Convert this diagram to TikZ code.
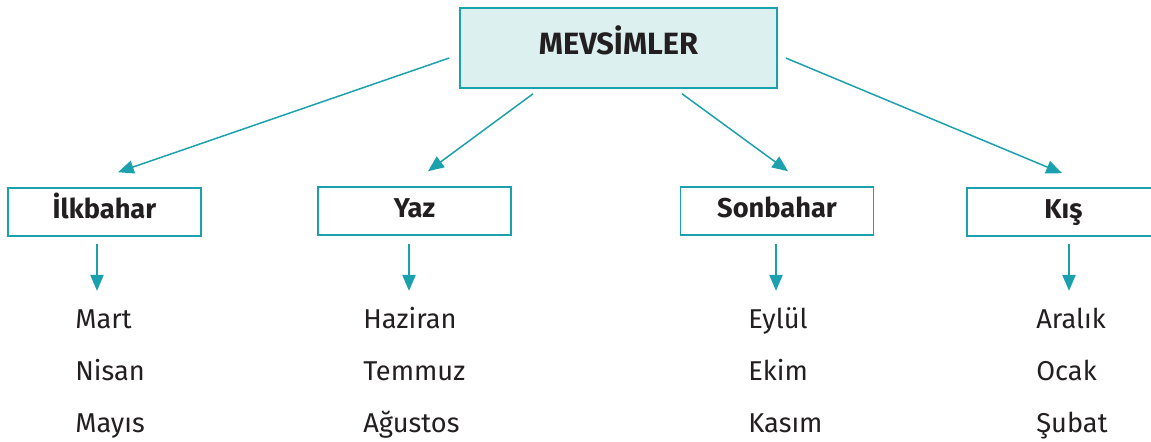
\documentclass[tikz,border=0pt]{standalone}
\usepackage{fontspec}
\setmainfont{Fira Sans}
\usepackage{xcolor}
\usepackage{tikz}
\usetikzlibrary{arrows.meta}
\usetikzlibrary{positioning}

\definecolor{tealline}{HTML}{1BA1AD}
\definecolor{tealfill}{HTML}{DDF0F0}
\definecolor{inkdark}{HTML}{231F20}

\begin{document}
\begin{tikzpicture}[
    x=0.02cm, y=-0.02cm,
    every node/.style={text=inkdark, inner sep=0pt},
    topbox/.style={rectangle, draw=tealline, fill=tealfill, line width=0.9pt,
      minimum width=317*0.02cm, minimum height=80*0.02cm,
      text height=0.69em, text depth=0pt, font=\fontsize{17.5}{20}\selectfont\bfseries},
    seasonbox/.style={rectangle, draw=tealline, fill=white, line width=0.9pt,
      minimum width=193*0.02cm, minimum height=48*0.02cm,
      text height=0.69em, text depth=0pt, font=\fontsize{15.5}{18}\selectfont\bfseries},
    month/.style={anchor=base west, font=\fontsize{15.5}{18}\selectfont},
    arr/.style={->, draw=tealline, line width=0.85pt},
  ]
\tikzset{>={Triangle[length=9pt, width=7.5pt]}}

  \useasboundingbox (0,0) rectangle (1151,441);

  \node[topbox]    (mevsim) at (618.5, 48) {MEVSİMLER};
  \node[seasonbox] (ilk)    at (104.5, 212) {İlkbahar};
  \node[seasonbox] (yaz)    at (414.5, 211) {Yaz};
  \node[seasonbox] (son)    at (777, 211)   {Sonbahar};
  \node[seasonbox] (kis)    at (1063.5, 212) {Kış};

  \draw[arr] ([shift={(-10,10)}]mevsim.west)   -- ([shift={(13.5,-15)}]ilk.north);
  \draw[arr] ([shift={(-85.5,5)}]mevsim.south) -- ([shift={(13.5,-15)}]yaz.north);
  \draw[arr] ([shift={(63.5,5)}]mevsim.south)  -- ([shift={(11,-15)}]son.north);
  \draw[arr] ([shift={(8,10)}]mevsim.east)     -- ([shift={(-1.5,-14)}]kis.north);

  \draw[arr] ([shift={(-7.5,7)}]ilk.south) -- ++(0,47);
  \draw[arr] ([shift={(-5.5,8)}]yaz.south) -- ++(0,47);
  \draw[arr] ([shift={(-1,8)}]son.south)   -- ++(0,47);
  \draw[arr] ([shift={(5.5,7)}]kis.south)  -- ++(0,47);

  \node[month] (mart)    at (75, 328)   {Mart};
  \node[month] (nisan)   at (75, 380)   {Nisan};
  \node[month] (mayis)   at (75, 432)   {Mayıs};
  \node[month] (haziran) at (363, 328)  {Haziran};
  \node[month] (temmuz)  at (363, 380)  {Temmuz};
  \node[month] (agustos) at (363, 432)  {Ağustos};
  \node[month] (eylul)   at (748, 328)  {Eylül};
  \node[month] (ekim)    at (748, 380)  {Ekim};
  \node[month] (kasim)   at (748, 432)  {Kasım};
  \node[month] (aralik)  at (1036, 328) {Aralık};
  \node[month] (ocak)    at (1036, 380) {Ocak};
  \node[month] (subat)   at (1036, 432) {Şubat};

  \end{tikzpicture}
\end{document}
